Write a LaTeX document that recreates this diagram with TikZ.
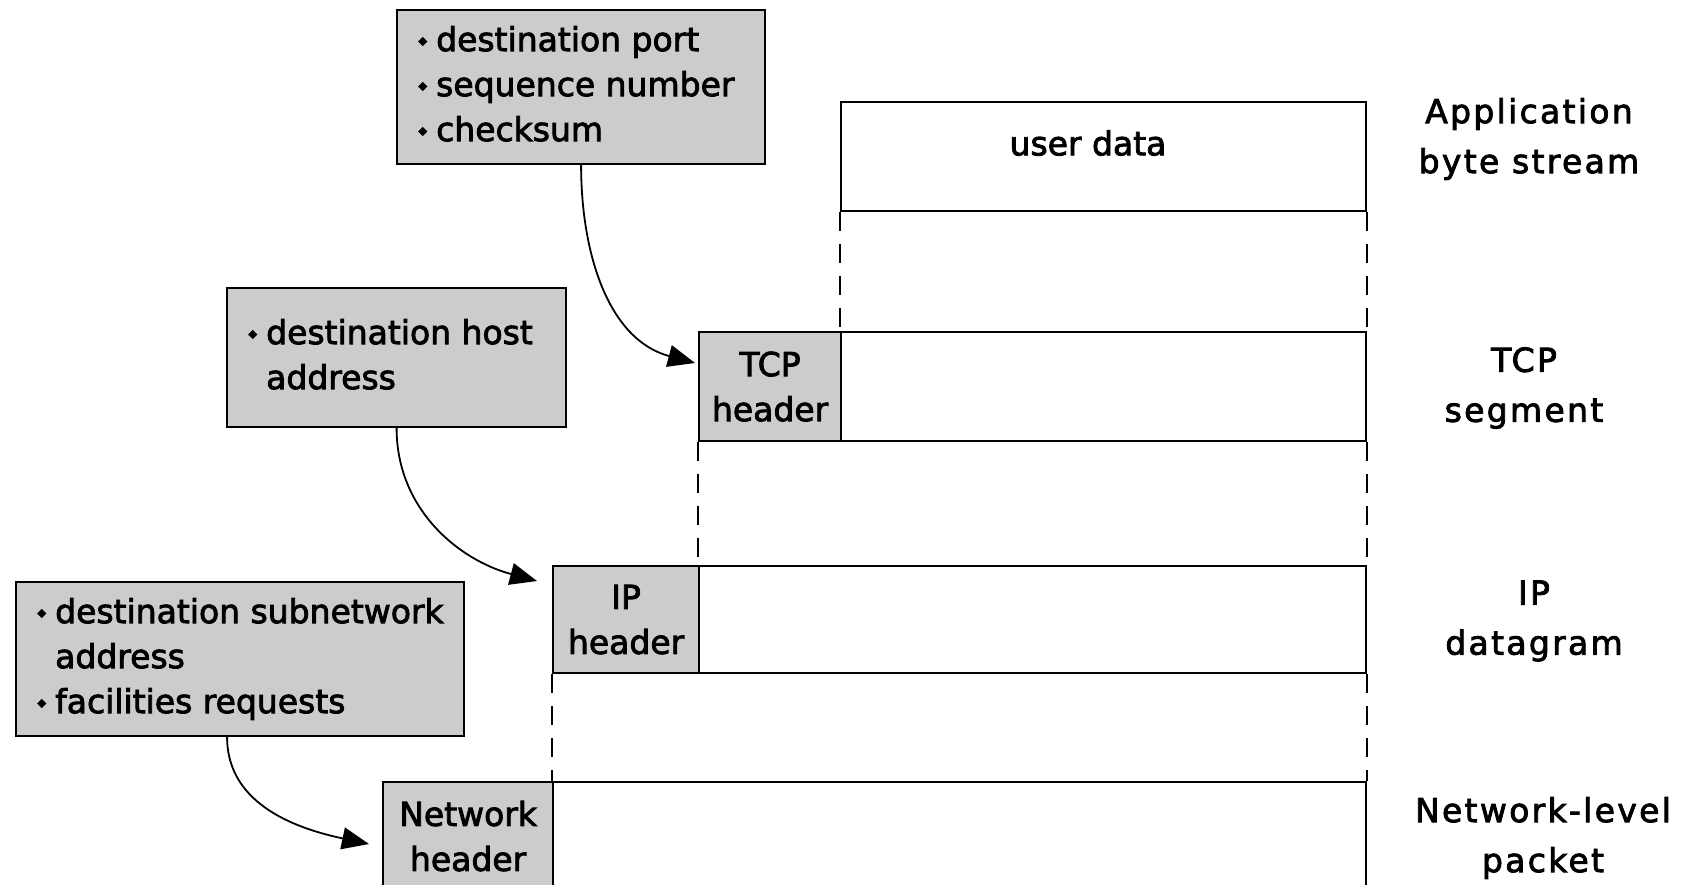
\documentclass[tikz,border=0pt]{standalone}
\usepackage{fontspec}
\setmainfont{DejaVu Sans}[FakeBold=2.5]
\newfontfamily\lblfont{DejaVu Sans}[LetterSpace=7,FakeBold=2.5]
\usetikzlibrary{arrows.meta}
\definecolor{hdrgray}{RGB}{204,204,204}
\newcommand{\bul}{\makebox[18pt][l]{\raisebox{5pt}{\rotatebox{45}{\rule{6.5pt}{6.5pt}}}}}
\begin{document}
\begin{tikzpicture}[x=1pt,y=-1pt,
  every node/.style={font=\fontsize{33}{45}\selectfont, inner sep=0pt},
  infobox/.style={draw, fill=hdrgray, line width=2.2pt, anchor=north west},
  hdr/.style={draw, fill=hdrgray, line width=2.2pt, anchor=north west, align=center},
  body/.style={draw, fill=white, line width=2.2pt, anchor=north west},
  guide/.style={line width=2pt, dash pattern=on 19pt off 13pt},
  conn/.style={line width=1.8pt, -{Triangle[length=27pt,width=22pt]}},
  lbl/.style={align=center, font=\lblfont\fontsize{33}{50}\selectfont}
]
\useasboundingbox (0,0) rectangle (1684,885);
\clip (0,0) rectangle (1684,885);

% packet rows
\node[body, minimum width=525pt, minimum height=109pt] (userdata) at (840,101) {};
\node (udtext) at (1088,143) {user data};

\node[body, minimum width=525pt, minimum height=109pt] (tcpbody) at (840,331) {};
\node[hdr, minimum width=142pt, minimum height=109pt] (tcphdr) at (698,331) {TCP\\header};

\node[body, minimum width=667pt, minimum height=107pt] (ipbody) at (698,565) {};
\node[hdr, minimum width=146pt, minimum height=107pt] (iphdr) at (552,565) {IP\\header};

\node[body, minimum width=813pt, minimum height=108pt] (netbody) at (552,781) {};
\node[hdr, minimum width=170pt, minimum height=108pt] (nethdr) at (382,781) {Network\\header};

% dashed guides
\draw[guide] (userdata.south west) -- (tcpbody.north west);
\draw[guide] (userdata.south east) -- (tcpbody.north east);
\draw[guide] (tcphdr.south west) -- (tcphdr.south west |- iphdr.north);
\draw[guide] (tcpbody.south east) -- (ipbody.north east);
\draw[guide] (iphdr.south west) -- (iphdr.south west |- nethdr.north);
\draw[guide] (ipbody.south east) -- (netbody.north east);

% info boxes
\node[infobox, minimum width=368pt, minimum height=154pt] (topbox) at (396,9) {};
\node[anchor=west] (toptext) at ([xshift=22pt]topbox.west)
  {\begin{tabular}{@{}l@{}l@{}}\bul&destination port\\\bul&sequence number\\\bul&checksum\end{tabular}};

\node[infobox, minimum width=339pt, minimum height=139pt] (midbox) at (226,287) {};
\node[anchor=west] (midtext) at ([xshift=22pt]midbox.west)
  {\begin{tabular}{@{}l@{}l@{}}\bul&destination host\\&address\end{tabular}};

\node[infobox, minimum width=448pt, minimum height=154pt] (botbox) at (15,581) {};
\node[anchor=west] (bottext) at ([xshift=22pt]botbox.west)
  {\begin{tabular}{@{}l@{}l@{}}\bul&destination subnetwork\\&address\\\bul&facilities requests\end{tabular}};

% connectors
\coordinate (t1) at (695,363);
\coordinate (t2) at (537,581);
\coordinate (t3) at (369,844);
\draw[conn] (topbox.south) to[out=-90,in=165] (t1);
\draw[conn] (midbox.south) to[out=-90,in=165] (t2);
\draw[conn] ([xshift=-13pt]botbox.south) to[out=-90,in=168] (t3);

% right labels
\node[lbl] (lapp) at (1529,139) {Application\\byte stream};
\node[lbl] (ltcp) at (1524,388) {TCP\\segment};
\node[lbl] (lip) at (1534,621) {IP\\datagram};
\node[lbl] (lnet) at (1543,838) {Network-level\\packet};
\end{tikzpicture}
\end{document}
